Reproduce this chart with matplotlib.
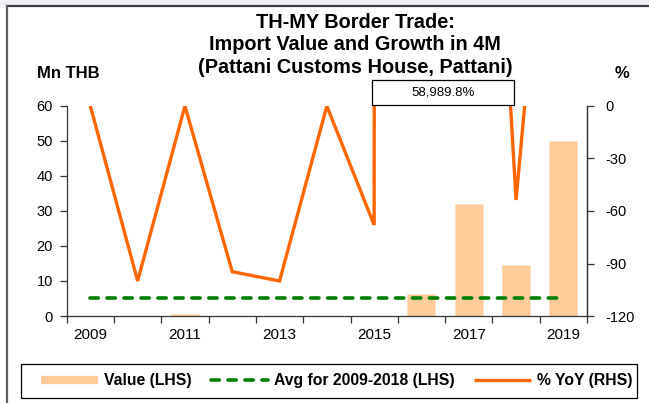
import numpy as np
import matplotlib
matplotlib.use("Agg")
import matplotlib.pyplot as plt
from matplotlib.patches import Rectangle
from matplotlib.lines import Line2D

plt.rcParams['font.family'] = ['Liberation Sans', 'DejaVu Sans']
plt.rcParams['axes.unicode_minus'] = False

# Import value (Mn THB) and % YoY, first four months of each year
years = [2009, 2010, 2011, 2012, 2013, 2014, 2015, 2016, 2017, 2018, 2019]
value = [0.01, 0.0, 0.5, 0.03, 0.0, 0.01, 0.01, 6.3, 32.0, 14.6, 50.0]
yoy = [0.0, -100.0, 0.0, -94.7, -100.0, 0.0, -68.0, 58989.8, 408.0, -53.7, 242.0]
avg_value = 5.2   # average 2009-2018
year_labels = ['2009', '', '2011', '', '2013', '', '2015', '', '2017', '', '2019']

W, H = 649, 403
fig = plt.figure(figsize=(W / 100, H / 100), dpi=100)

def fx(px):
    return px / W

def fy(py):
    return 1 - py / H

# outer frame of the chart object
fig.patches.append(Rectangle((0, fy(5)), 1, 5 / H, transform=fig.transFigure,
                             facecolor='#eef0f6', edgecolor='none'))
fig.lines.append(Line2D([fx(7), 1], [fy(5.5), fy(5.5)], transform=fig.transFigure,
                        color='#404040', lw=1.6))
fig.lines.append(Line2D([fx(7), fx(7)], [0, fy(5.5)], transform=fig.transFigure,
                        color='#606060', lw=1.6))

left, right, top, bottom = 66.7, 587, 106, 316
ax = fig.add_axes([fx(left), fy(bottom), (right - left) / W, (bottom - top) / H])
ax2 = ax.twinx()

x = np.arange(len(years))
ax.bar(x, value, width=0.59, color='#ffcc99', edgecolor='#ffe0c0', linewidth=0.6, zorder=2)
ax.plot(x, [avg_value] * len(years), color='#008000', lw=2.6,
        linestyle=(0, (2.3, 2.4)), dash_capstyle='round', zorder=3)
ax2.plot(x, yoy, color='#ff6600', lw=2.4, solid_joinstyle='miter', zorder=4)

ax.set_xlim(-0.5, len(years) - 0.5)
ax.set_ylim(0, 60)
ax.set_yticks(np.arange(0, 61, 10))
ax2.set_ylim(-120, 0)
ax2.set_yticks(np.arange(-120, 1, 30))

# category boundaries as tick marks, year names in between
ax.set_xticks(np.arange(-0.5, len(years), 1.0))
ax.set_xticklabels([])
ax.set_xticks(x, minor=True)
ax.set_xticklabels(year_labels, minor=True)
ax.tick_params(axis='x', which='major', direction='out', length=5, width=0.9, color='#333333')
ax.tick_params(axis='x', which='minor', length=0, pad=8.5, labelsize=11)
ax.tick_params(axis='y', direction='out', length=5, width=0.9, pad=5, labelsize=10.5, color='#333333')
ax2.tick_params(axis='y', direction='out', length=5, width=0.9, pad=8, labelsize=10.5, color='#333333')

for a in (ax, ax2):
    a.spines['top'].set_visible(False)
    for s in ('left', 'right', 'bottom'):
        a.spines[s].set_color('#333333')
        a.spines[s].set_linewidth(0.9)
ax2.spines['left'].set_visible(False)
ax2.spines['bottom'].set_visible(False)
ax.set_zorder(1)
ax2.set_zorder(2)
ax.patch.set_visible(False)
ax2.patch.set_visible(False)

fig.text(0.547, fy(45), 'TH-MY Border Trade:\nImport Value and Growth in 4M\n(Pattani Customs House, Pattani)',
         ha='center', va='center', fontsize=14.3, fontweight='bold', linespacing=1.25)
fig.text(fx(37), fy(74), 'Mn THB', ha='left', va='center', fontsize=12, fontweight='bold')
fig.text(fx(622), fy(74), '%', ha='center', va='center', fontsize=12, fontweight='bold')

# value label for the off-scale point
fig.patches.append(Rectangle((fx(372), fy(105)), (514 - 372) / W, 25 / H, transform=fig.transFigure,
                             facecolor='white', edgecolor='black', lw=0.9, zorder=5))
fig.text(fx(443), fy(92.5), f'{yoy[7]:,.1f}%', ha='center', va='center', fontsize=9.5, zorder=6)

# legend
fig.patches.append(Rectangle((fx(21), fy(398)), (637 - 21) / W, (398 - 364) / H, transform=fig.transFigure,
                             facecolor='white', edgecolor='black', lw=0.9))
handles = [Line2D([], [], color='#ffcc99', lw=6, solid_capstyle='butt'),
           Line2D([], [], color='#008000', lw=2.6, linestyle=(0, (2.3, 2.4)), dash_capstyle='round'),
           Line2D([], [], color='#ff6600', lw=2.4, solid_capstyle='butt')]
labels = ['Value (LHS)', 'Avg for 2009-2018 (LHS)', '% YoY (RHS)']
fig.legend(handles, labels, loc='center left', bbox_to_anchor=(fx(41), fy(381)), ncol=3,
           frameon=False, borderpad=0, borderaxespad=0, handlelength=3.6, handletextpad=0.4,
           columnspacing=1.25, prop={'weight': 'bold', 'size': 11.3})

fig.savefig('out.png', dpi=100)
